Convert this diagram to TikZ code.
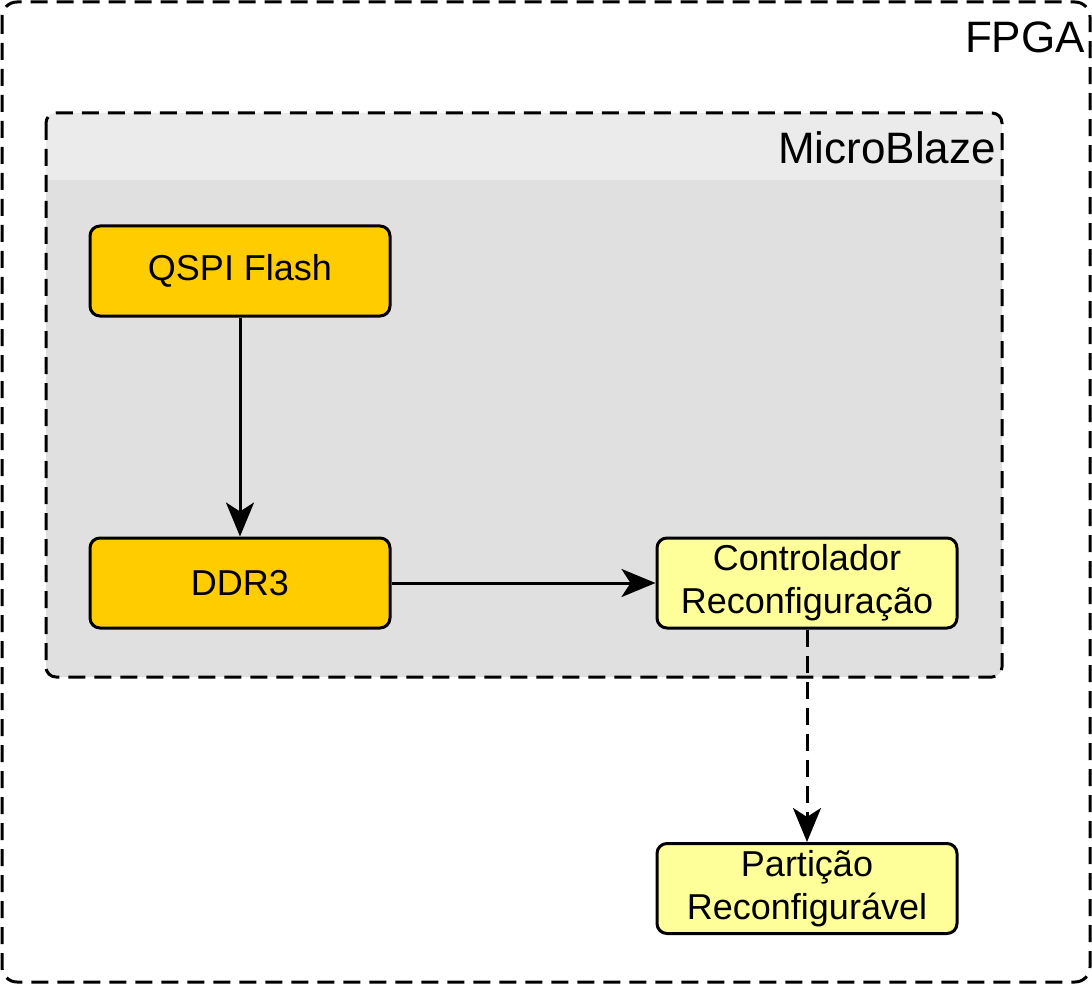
\documentclass[tikz,border=0pt]{standalone}
\usepackage{fontspec}
\setmainfont{Liberation Sans}
\usetikzlibrary{arrows.meta}

\definecolor{mbhead}{HTML}{EBEBEB}
\definecolor{mbbody}{HTML}{E0E0E0}
\definecolor{memfill}{HTML}{FFCC00}
\definecolor{rcfill}{HTML}{FFFF99}

\begin{document}
\begin{tikzpicture}[x=1pt,y=1pt,
    frame/.style={line width=3pt, dash pattern=on 17pt off 9pt},
    block/.style={draw, line width=3pt, rounded corners=10pt,
        minimum width=300pt, minimum height=90pt, inner sep=0pt,
        align=center, font=\fontsize{36}{43}\selectfont},
    title/.style={anchor=east, inner sep=0pt, font=\fontsize{44}{50}\selectfont},
    link/.style={line width=3pt, -{Stealth[length=34pt, width=28pt, inset=9pt]}}]
    \useasboundingbox (0,0) rectangle (1092,-984);

    % FPGA
    \draw[frame, rounded corners=15pt] (2,-2) rectangle (1090,-982);
    \node[title] (fpga) at (1085,-37) {FPGA};

    % MicroBlaze
    \fill[mbbody, rounded corners=10pt] (46,-113) rectangle (1002,-677);
    \begin{scope}
        \clip[rounded corners=10pt] (46,-113) rectangle (1002,-677);
        \fill[mbhead] (46,-113) rectangle (1002,-180);
    \end{scope}
    \draw[frame, rounded corners=10pt] (46,-113) rectangle (1002,-677);
    \node[title] (mb) at (996,-148) {MicroBlaze};

    \node[block, fill=memfill] (qspi) at (240,-271) {QSPI Flash};
    \node[block, fill=memfill] (ddr) at (240,-583) {DDR3};
    \node[block, fill=rcfill] (ctrl) at (807,-583) {Controlador\\Reconfiguração};
    \node[block, fill=rcfill] (part) at (807,-888.5) {Partição\\Reconfigurável};

    \draw[link] (qspi) -- (ddr);
    \draw[link] (ddr) -- (ctrl);
    \draw[link, dash pattern=on 17pt off 9pt] (ctrl) -- (part);
\end{tikzpicture}
\end{document}
